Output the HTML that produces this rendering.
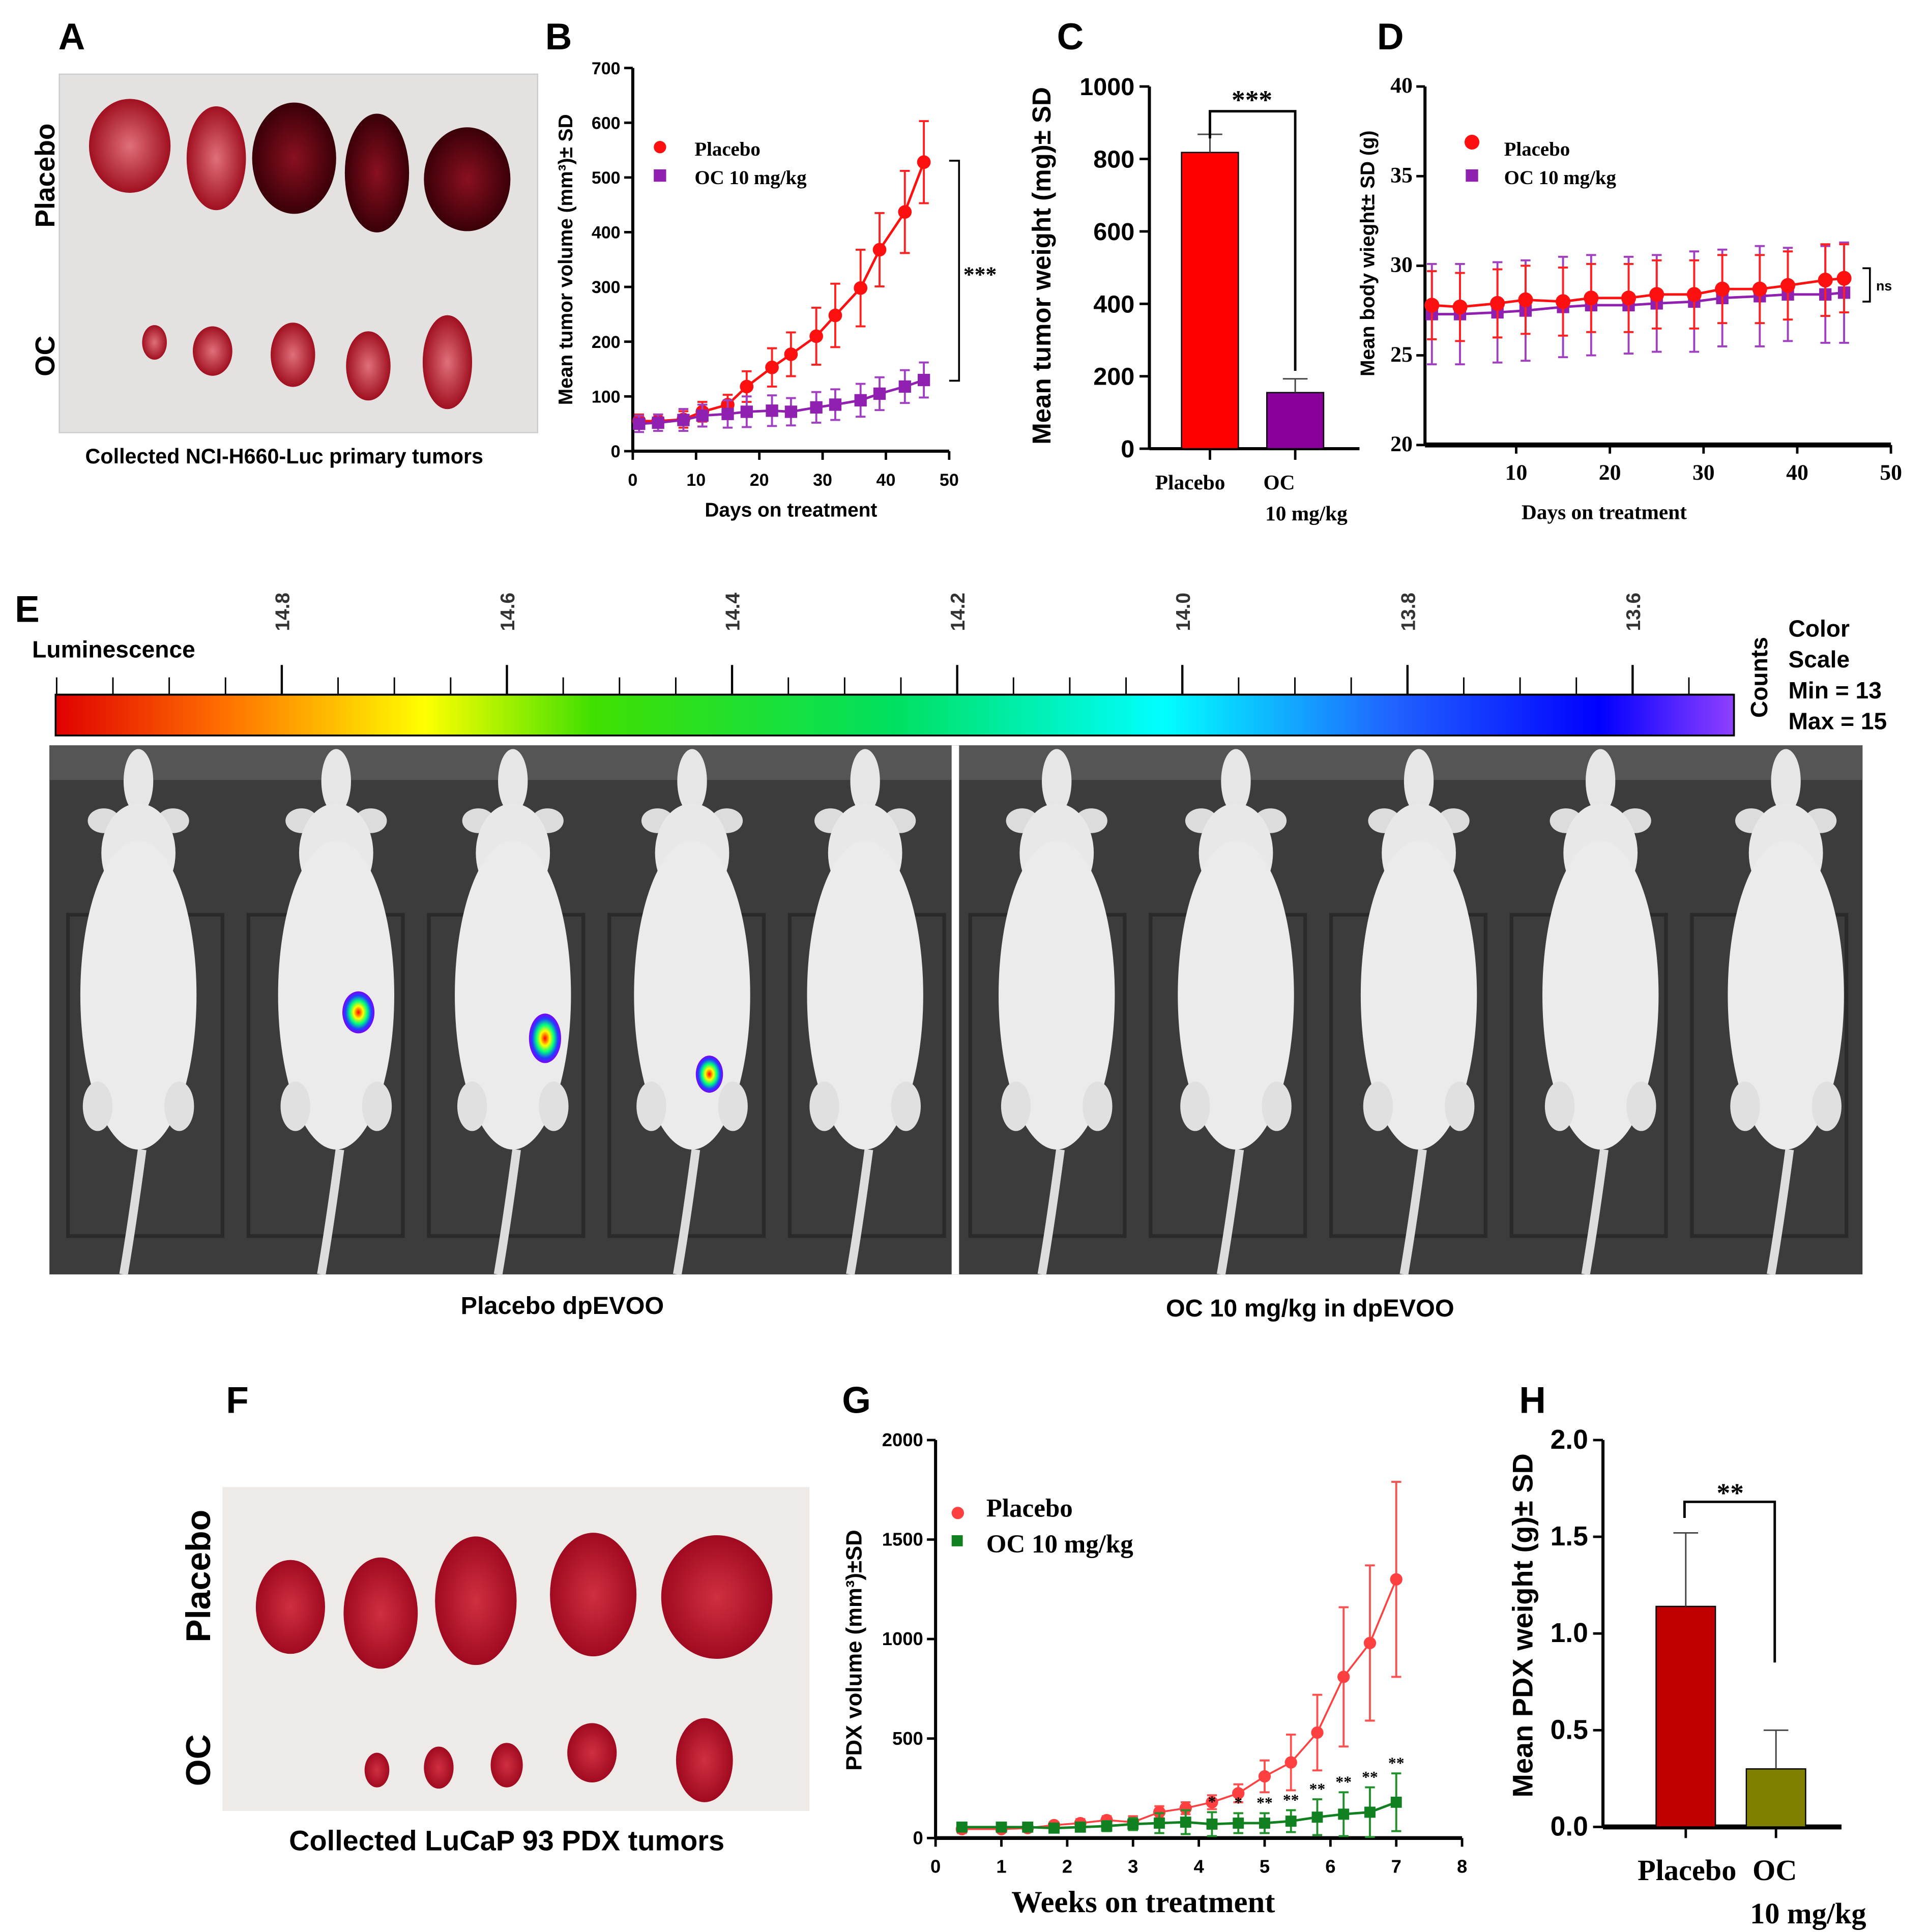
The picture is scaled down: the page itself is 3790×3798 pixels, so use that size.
<!DOCTYPE html>
<html><head><meta charset="utf-8"><style>
html,body{margin:0;padding:0;background:#fff}
svg{display:block}
.s{font-family:"Liberation Sans",sans-serif;font-weight:bold}
.r{font-family:"Liberation Serif",serif;font-weight:bold}
</style></head><body>
<svg id="fig" width="3790" height="3798" viewBox="0 0 1560 1563" preserveAspectRatio="none" xmlns="http://www.w3.org/2000/svg">
<defs>
<linearGradient id="cbar" x1="0" x2="1" y1="0" y2="0">
<stop offset="0" stop-color="#e00000"/><stop offset="0.1" stop-color="#ff7000"/><stop offset="0.22" stop-color="#ffff00"/><stop offset="0.32" stop-color="#40e000"/><stop offset="0.5" stop-color="#00e060"/><stop offset="0.66" stop-color="#00ffff"/><stop offset="0.8" stop-color="#2060ff"/><stop offset="0.92" stop-color="#0000ff"/><stop offset="1" stop-color="#9040ff"/>
</linearGradient>
<radialGradient id="spot"><stop offset="0" stop-color="#ff0000"/><stop offset="0.3" stop-color="#ffff00"/><stop offset="0.55" stop-color="#00ff80"/><stop offset="0.8" stop-color="#2040ff"/><stop offset="1" stop-color="#8000ff"/></radialGradient>
<radialGradient id="tum1"><stop offset="0" stop-color="#e0707a"/><stop offset="1" stop-color="#a01020"/></radialGradient>
<radialGradient id="tum2"><stop offset="0" stop-color="#8a1020"/><stop offset="1" stop-color="#3a0008"/></radialGradient>
<radialGradient id="tum3"><stop offset="0" stop-color="#d03040"/><stop offset="1" stop-color="#a00a20"/></radialGradient>
</defs>
<g id="root"></g>
</svg>
<script>
// Panel B data
const bDays=[1,4,8,11,15,18,22,25,29,32,36,39,43,46];
const bPlacebo=[55,55,58,72,85,118,153,177,210,248,298,368,437,528];
const bPlaceboErr=[12,12,15,18,18,28,35,40,52,58,70,67,75,75];
const bOC=[50,52,57,65,68,72,74,72,80,85,93,105,118,130];
const bOCErr=[15,15,20,20,25,28,28,25,28,28,30,30,30,32];
const bXTicks=[0,10,20,30,40,50];
const bYTicks=[0,100,200,300,400,500,600,700];
// Panel C data
const cCats=["Placebo","OC"];
const cVals=[818,155];
const cErr=[50,38];
const cYTicks=[0,200,400,600,800,1000];
// Panel D data
const dDays=[1,4,8,11,15,18,22,25,29,32,36,39,43,45];
const dPlacebo=[27.8,27.7,27.9,28.1,28.0,28.2,28.2,28.4,28.4,28.7,28.7,28.9,29.2,29.3];
const dPlaceboErr=[1.9,1.9,1.9,1.9,1.9,1.9,1.9,1.9,1.9,1.9,1.9,1.9,2.0,1.9];
const dOC=[27.3,27.3,27.4,27.5,27.7,27.8,27.8,27.9,28.0,28.2,28.3,28.4,28.4,28.5];
const dOCErr=[2.8,2.8,2.8,2.8,2.8,2.8,2.7,2.7,2.8,2.7,2.8,2.6,2.7,2.8];
const dXTicks=[10,20,30,40,50];
const dYTicks=[20,25,30,35,40];
// Panel E color scale
const eTicks=[14.8,14.6,14.4,14.2,14.0,13.8,13.6];
// Panel G data
const gWeeks=[0.4,1,1.4,1.8,2.2,2.6,3,3.4,3.8,4.2,4.6,5,5.4,5.8,6.2,6.6,7];
const gPlacebo=[45,45,50,65,75,90,80,130,150,180,225,310,380,530,810,980,1300];
const gPlaceboErr=[20,15,15,15,20,20,30,30,30,35,45,80,140,190,350,390,490];
const gOC=[55,55,55,50,55,60,70,75,80,70,75,75,85,105,120,130,180];
const gOCErr=[20,20,20,20,20,25,30,50,60,60,50,50,55,90,110,125,145];
const gStars=["","","","","","","","","","*","*","**","**","**","**","**","**"];
const gXTicks=[0,1,2,3,4,5,6,7,8];
const gYTicks=[0,500,1000,1500,2000];
// Panel H data
const hVals=[1.14,0.30];
const hErr=[0.38,0.20];
const hYTicks=[0,0.5,1.0,1.5,2.0];

const NS="http://www.w3.org/2000/svg";
const root=document.getElementById('root');
function el(tag,attrs,parent,txt){const e=document.createElementNS(NS,tag);for(const k in attrs)e.setAttribute(k,attrs[k]);if(txt!==undefined)e.textContent=txt;(parent||root).appendChild(e);return e;}
function grp(name){const g=el('g',{});


return g;}
function text(g,x,y,s,cls,size,anchor,rot,fill){const t=el('text',{x:x,y:y,'font-size':size,'text-anchor':anchor||'middle',class:cls,fill:fill||'#000'},g,s);if(rot)t.setAttribute('transform','rotate('+rot+' '+x+' '+y+')');return t;}
function line(g,x1,y1,x2,y2,c,w){return el('line',{x1:x1,y1:y1,x2:x2,y2:y2,stroke:c||'#000','stroke-width':w||2},g);}
function lin(d0,d1,r0,r1){return v=>r0+(v-d0)*(r1-r0)/(d1-d0);}

// ---- Panel letters ----
const letters=[["A",58,40],["B",452,40],["C",866,40],["D",1125,40],["E",22,503],["F",192,1143],["G",693,1143],["H",1240,1143]];
letters.forEach(l=>{const g=grp('panel-label-'+l[0].toLowerCase());text(g,l[1],l[2],l[0],'s',30);});

// ---- Panel A photo ----
(function(){const g=grp('panel-a-photo');
el('rect',{x:48,y:60,width:387,height:290,fill:'#e4e2e0'},g);
el('rect',{x:48,y:60,width:387,height:290,fill:'none',stroke:'#ccc','stroke-width':1},g);
const top=[[105,118,33,38,'tum1'],[175,128,24,42,'tum1'],[238,128,34,45,'tum2'],[305,140,26,48,'tum2'],[378,145,35,42,'tum2']];
top.forEach(t=>{const e=el('ellipse',{cx:t[0],cy:t[1],rx:t[2],ry:t[3],fill:'url(#'+t[4]+')'},g);

});
const bot=[[125,277,10,14],[172,284,16,20],[237,287,18,26],[298,296,18,28],[362,293,20,38]];
bot.forEach(t=>{const e=el('ellipse',{cx:t[0],cy:t[1],rx:t[2],ry:t[3],fill:'url(#tum1)'},g);

});
text(g,44,142,'Placebo','s',22,'middle',-90);
text(g,44,288,'OC','s',22,'middle',-90);
text(g,230,375,'Collected NCI-H660-Luc primary tumors','s',17);
})();

// ---- generic line chart ----
function lineChart(name,xs,series,xsc,ysc,opts){const g=grp(name);
line(g,opts.x0,opts.yTop,opts.x0,opts.yBot,'#000',opts.aw||2.5);
line(g,opts.x0,opts.yBot,opts.xEnd,opts.yBot,'#000',opts.bw||2.5);
opts.xt.forEach(v=>{line(g,xsc(v),opts.yBot,xsc(v),opts.yBot+7);text(g,xsc(v),opts.yBot+28,String(v),opts.tcls,opts.tfs);});
opts.yt.forEach(v=>{line(g,opts.x0-7,ysc(v),opts.x0,ysc(v));text(g,opts.x0-10,ysc(v)+5,opts.yfmt?opts.yfmt(v):String(v),opts.tcls,opts.tfs,'end');});
series.forEach(s=>{const sg=el('g',{},g);


s.vals.forEach((v,i)=>{const x=xsc(xs[i]);line(sg,x,ysc(v-s.err[i]),x,ysc(v+s.err[i]),s.ec,1.6);line(sg,x-4,ysc(v+s.err[i]),x+4,ysc(v+s.err[i]),s.ec,1.6);line(sg,x-4,ysc(v-s.err[i]),x+4,ysc(v-s.err[i]),s.ec,1.6);});
el('polyline',{points:s.vals.map((v,i)=>xsc(xs[i])+','+ysc(v)).join(' '),fill:'none',stroke:s.c,'stroke-width':s.lw||2},sg);
s.vals.forEach((v,i)=>{const x=xsc(xs[i]),y=ysc(v);let m;
if(s.shape==='c')m=el('circle',{cx:x,cy:y,r:s.r||5.5,fill:s.c},sg);else m=el('rect',{x:x-s.r,y:y-s.r,width:2*s.r,height:2*s.r,fill:s.c},sg);

});});
return g;}

// ---- Panel B ----
(function(){const xs=lin(0,50,512,768),ys=lin(0,700,365,55);
const g=lineChart('panel-b-tumor-volume-chart',bDays,[{name:'series-placebo',vals:bPlacebo,err:bPlaceboErr,c:'#ff1010',ec:'#ff2020',shape:'c',r:5.5},{name:'series-oc',vals:bOC,err:bOCErr,c:'#9020b0',ec:'#a040c0',shape:'s',r:5}],xs,ys,{x0:512,xEnd:768,yTop:55,yBot:365,xt:bXTicks,yt:bYTicks,tcls:'s',tfs:14});
text(g,640,418,'Days on treatment','s',16);
text(g,463,210,'Mean tumor volume (mm³)± SD','s',16,'middle',-90);
el('circle',{cx:534,cy:119,r:5,fill:'#ff1010'},g);text(g,562,126,'Placebo','r',16,'start');
el('rect',{x:529,y:137,width:10,height:10,fill:'#9020b0'},g);text(g,562,149,'OC 10 mg/kg','r',16,'start');
const br=el('polyline',{points:'768,130 776,130 776,308 768,308',fill:'none',stroke:'#000','stroke-width':1.5},g);


text(g,793,228,'***','r',18);
})();

// ---- bar chart ----
function barChart(name,vals,err,ys,opts){const g=grp(name);
line(g,opts.x0,opts.yTop,opts.x0,opts.yBot,'#000',2.5);
line(g,opts.x0,opts.yBot,opts.xEnd,opts.yBot,'#000',opts.bw||2.5);
opts.yt.forEach(v=>{line(g,opts.x0-8,ys(v),opts.x0,ys(v));text(g,opts.x0-12,ys(v)+7,opts.fmt?opts.fmt(v):String(v),'s',opts.tfs,'end');});
vals.forEach((v,i)=>{const x=opts.bx[i];
const r=el('rect',{x:x,y:ys(v),width:opts.bw2,height:ys(0)-ys(v),fill:opts.cols[i],stroke:'#000','stroke-width':1},g);


const cx=x+opts.bw2/2;line(g,cx,ys(v),cx,ys(v+err[i]),'#444',1.2);line(g,cx-10,ys(v+err[i]),cx+10,ys(v+err[i]),'#444',1.2);
line(g,cx,opts.yBot,cx,opts.yBot+9);});
return g;}

// ---- Panel C ----
(function(){const ys=lin(0,1000,363,70);
const g=barChart('panel-c-tumor-weight-chart',cVals,cErr,ys,{x0:930,xEnd:1100,yTop:70,yBot:363,yt:cYTicks,tfs:20,bx:[956,1025],bw2:46,cols:['#ff0000','#880099'],names:['placebo','oc']});
text(g,963,396,'Placebo','r',17);text(g,1035,396,'OC','r',17);text(g,1057,421,'10 mg/kg','r',17);
text(g,850,215,'Mean tumor weight (mg)± SD','s',21,'middle',-90);
el('polyline',{points:'979,112 979,90 1048,90 1048,300',fill:'none',stroke:'#000','stroke-width':2},g);
text(g,1013,88,'***','r',22);
})();

// ---- Panel D ----
(function(){const xs=lin(0,50,1151,1530),ys=lin(20,40,360,70);
const g=lineChart('panel-d-body-weight-chart',dDays,[{name:'series-oc',vals:dOC,err:dOCErr,c:'#9020b0',ec:'#a040c0',shape:'s',r:5},{name:'series-placebo',vals:dPlacebo,err:dPlaceboErr,c:'#ff1010',ec:'#ff2020',shape:'c',r:6}],xs,ys,{x0:1153,xEnd:1530,yTop:70,yBot:360,xt:dXTicks,yt:dYTicks,tcls:'r',tfs:18,bw:4});
text(g,1298,420,'Days on treatment','r',17);
text(g,1112,205,'Mean body wieght± SD (g)','s',16,'middle',-90);
el('circle',{cx:1191,cy:115,r:6,fill:'#ff1010'},g);text(g,1217,126,'Placebo','r',16,'start');
el('rect',{x:1186,y:137,width:10,height:10,fill:'#9020b0'},g);text(g,1217,149,'OC 10 mg/kg','r',16,'start');
el('polyline',{points:'1507,217 1513,217 1513,244 1507,244',fill:'none',stroke:'#000','stroke-width':1.5},g);
text(g,1518,235,'ns','s',11,'start');
})();

// ---- Panel E ----
(function(){const g=grp('panel-e-luminescence');
text(g,92,532,'Luminescence','s',19);
const sc=lin(14.8,13.6,228,1321);
const cb=el('rect',{x:45,y:562,width:1358,height:33,fill:'url(#cbar)',stroke:'#000','stroke-width':1.5},g);


line(g,45,562,1403,562,'#000',1.5);
for(let v=15.0;v>=13.4;v-=0.05){const x=sc(v);if(x>=45&&x<=1403)line(g,x,548,x,562,'#000',1.2);}
eTicks.forEach(v=>{const x=sc(v);line(g,x,538,x,562,'#000',1.8);text(g,x+6,495,v.toFixed(1),'s',16,'middle',-90,'#333');});
text(g,1430,548,'Counts','s',19,'middle',-90);
['Color','Scale','Min = 13','Max = 15'].forEach((s,i)=>text(g,1447,515+i*25,s,'s',19,'start'));
const im=el('g',{},g);


el('rect',{x:40,y:603,width:1467,height:428,fill:'#3c3c3c'},im);
el('rect',{x:40,y:603,width:1467,height:28,fill:'#555'},im);
el('rect',{x:770,y:603,width:6,height:428,fill:'#fff'},im);
for(let i=0;i<10;i++){el('rect',{x:55+i*146,y:740,width:125,height:260,fill:'none',stroke:'#2a2a2a','stroke-width':3},im);}
const mx=[112,272,415,560,700,855,1000,1148,1295,1445];
mx.forEach((x,i)=>{const m=el('g',{},im);


el('path',{d:'M'+(x+3)+' 930 Q'+(x-5)+' 990 '+(x-12)+' 1031',stroke:'#ddd','stroke-width':7,fill:'none'},m);
el('ellipse',{cx:x,cy:632,rx:12,ry:26,fill:'#e6e6e6'},m);
el('ellipse',{cx:x-28,cy:664,rx:13,ry:10,fill:'#dcdcdc'},m);
el('ellipse',{cx:x+28,cy:664,rx:13,ry:10,fill:'#dcdcdc'},m);
el('ellipse',{cx:x,cy:690,rx:30,ry:40,fill:'#e8e8e8'},m);
el('ellipse',{cx:x,cy:805,rx:47,ry:125,fill:'#ebebeb'},m);
el('ellipse',{cx:x-33,cy:895,rx:12,ry:20,fill:'#e0e0e0'},m);
el('ellipse',{cx:x+33,cy:895,rx:12,ry:20,fill:'#e0e0e0'},m);});
[[290,819,13,17],[441,840,13,20],[574,869,11,15]].forEach(s=>{const e=el('ellipse',{cx:s[0],cy:s[1],rx:s[2],ry:s[3],fill:'url(#spot)'},im);

});
text(g,455,1063,'Placebo dpEVOO','s',20);
text(g,1060,1065,'OC 10 mg/kg in dpEVOO','s',20);
})();

// ---- Panel F ----
(function(){const g=grp('panel-f-photo');
el('rect',{x:180,y:1203,width:475,height:262,fill:'#eeeae8'},g);
[[235,1300,28,38],[308,1305,30,45],[385,1295,33,52],[480,1290,35,50],[580,1292,45,50]].forEach(t=>{const e=el('ellipse',{cx:t[0],cy:t[1],rx:t[2],ry:t[3],fill:'url(#tum3)'},g);

});
[[305,1432,10,14],[355,1430,12,17],[410,1428,13,18],[479,1418,20,24],[570,1424,23,34]].forEach(t=>{const e=el('ellipse',{cx:t[0],cy:t[1],rx:t[2],ry:t[3],fill:'url(#tum3)'},g);

});
text(g,170,1275,'Placebo','s',28,'middle',-90);
text(g,170,1424,'OC','s',28,'middle',-90);
text(g,410,1497,'Collected LuCaP 93 PDX tumors','s',23);
})();

// ---- Panel G ----
(function(){const xs=lin(0,8,757,1183),ys=lin(0,2000,1487,1165);
const g=lineChart('panel-g-pdx-volume-chart',gWeeks,[{name:'series-placebo',vals:gPlacebo,err:gPlaceboErr,c:'#ff4040',ec:'#ff5050',shape:'c',r:5,lw:1.5},{name:'series-oc',vals:gOC,err:gOCErr,c:'#108020',ec:'#20902a',shape:'s',r:4.5,lw:2}],xs,ys,{x0:757,xEnd:1183,yTop:1165,yBot:1487,xt:gXTicks,yt:gYTicks,tcls:'s',tfs:15,bw:3});
gStars.forEach((s,i)=>{if(s)text(g,xs(gWeeks[i]),ys(gOC[i]+gOCErr[i])-4,s,'r',13);});
text(g,925,1547,'Weeks on treatment','r',25);
text(g,697,1335,'PDX volume (mm³)±SD','s',18,'middle',-90);
el('circle',{cx:775,cy:1224,r:5,fill:'#ff4040'},g);text(g,798,1227,'Placebo','r',21,'start');
el('rect',{x:770,y:1242,width:9,height:9,fill:'#108020'},g);text(g,798,1256,'OC 10 mg/kg','r',21,'start');
})();

// ---- Panel H ----
(function(){const ys=lin(0,2,1478,1165);
const g=barChart('panel-h-pdx-weight-chart',hVals,hErr,ys,{x0:1297,xEnd:1490,yTop:1165,yBot:1478,yt:hYTicks,tfs:22,bx:[1340,1413],bw2:48,cols:['#c00000','#808000'],names:['placebo','oc'],fmt:v=>v.toFixed(1),bw:4});
text(g,1365,1521,'Placebo','r',24);text(g,1436,1521,'OC','r',24);text(g,1463,1556,'10 mg/kg','r',24);
text(g,1240,1315,'Mean PDX weight (g)± SD','s',23,'middle',-90);
el('polyline',{points:'1363,1228 1363,1215 1436,1215 1436,1345',fill:'none',stroke:'#000','stroke-width':2},g);
text(g,1400,1215,'**','r',22);
})();
</script>
</body></html>
